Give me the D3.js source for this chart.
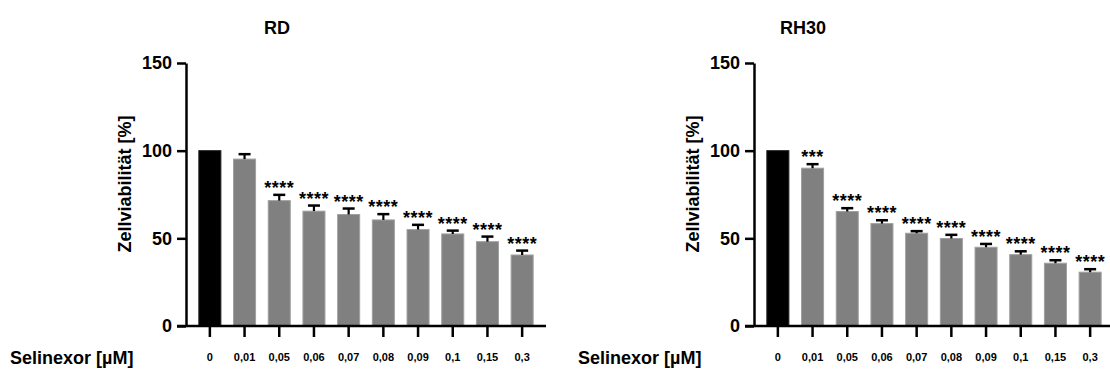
<!DOCTYPE html>
<html>
<head>
<meta charset="utf-8">
<script src="https://cdn.jsdelivr.net/npm/d3@7"></script>
<style>
  html, body { margin: 0; padding: 0; background: #fff; }
  svg { display: block; }
  text { font-family: "Liberation Sans", Arial, sans-serif; font-weight: bold; fill: #000; }
</style>
</head>
<body>
<svg id="chart" width="1110" height="370"></svg>
<script>
const categories = ["0", "0,01", "0,05", "0,06", "0,07", "0,08", "0,09", "0,1", "0,15", "0,3"];
const yTicks = [0, 50, 100, 150];

const rdValues = [100, 95.2, 71.5, 65.5, 63.6, 60.5, 55.0, 52.5, 48.1, 40.5];
const rdErrors = [0, 2.8, 3.3, 3.2, 3.4, 3.3, 2.7, 1.9, 2.9, 2.5];
const rdStars = ["", "", "****", "****", "****", "****", "****", "****", "****", "****"];

const rh30Values = [100, 90.0, 65.3, 58.4, 52.9, 49.9, 44.9, 40.7, 35.8, 30.7];
const rh30Errors = [0, 2.3, 1.9, 1.9, 1.2, 2.1, 1.9, 1.9, 1.7, 1.7];
const rh30Stars = ["", "***", "****", "****", "****", "****", "****", "****", "****", "****"];

const panels = [
  { title: "RD", values: rdValues, errors: rdErrors, stars: rdStars, offset: 0, titleX: 277 },
  { title: "RH30", values: rh30Values, errors: rh30Errors, stars: rh30Stars, offset: 568, titleX: 803 }
];

const svg = d3.select("#chart");

panels.forEach(p => {
  const x0 = 186 + p.offset;
  const x = d3.scaleBand().domain(categories).range([x0, x0 + 360]).paddingInner(0.365).paddingOuter(0.37);
  const y = d3.scaleLinear().domain([0, 150]).range([326, 63]);
  const g = svg.append("g");

  // bars
  g.selectAll("rect.bar").data(p.values).enter().append("rect")
    .attr("x", (d, i) => x(categories[i]))
    .attr("width", x.bandwidth())
    .attr("y", d => y(d))
    .attr("height", d => y(0) - y(d))
    .attr("fill", (d, i) => i === 0 ? "#000" : "#808080")
    .attr("stroke", (d, i) => i === 0 ? "#222" : "#a0a0a0")
    .attr("stroke-width", 1);

  // error bars (upper only)
  p.values.forEach((v, i) => {
    const e = p.errors[i];
    if (!e) return;
    const cx = x(categories[i]) + x.bandwidth() / 2;
    g.append("line").attr("x1", cx).attr("x2", cx).attr("y1", y(v)).attr("y2", y(v + e))
      .attr("stroke", "#000").attr("stroke-width", 2.2);
    g.append("line").attr("x1", cx - 6).attr("x2", cx + 6).attr("y1", y(v + e)).attr("y2", y(v + e))
      .attr("stroke", "#000").attr("stroke-width", 2.5);
    if (p.stars[i]) {
      g.append("text").attr("x", cx).attr("y", y(v + e) - 1)
        .attr("text-anchor", "middle").attr("font-size", 18).attr("letter-spacing", 0.5)
        .text(p.stars[i]);
    }
  });

  // axes
  const yAxis = g.append("g").attr("transform", `translate(${x0},0)`)
    .call(d3.axisLeft(y).tickValues(yTicks).tickSize(9).tickSizeOuter(0).tickPadding(5));
  yAxis.selectAll("text").attr("font-size", 18).style("font-family", '"Liberation Sans", Arial, sans-serif').style("font-weight", "bold");

  const xAxis = g.append("g").attr("transform", `translate(0,${y(0)})`)
    .call(d3.axisBottom(x).tickSize(11).tickSizeOuter(0).tickPadding(16));
  xAxis.select(".domain").attr("d", `M${x0 - 9},0H${x0 + 360}`);
  xAxis.selectAll("text").attr("font-size", 11).style("font-family", '"Liberation Sans", Arial, sans-serif').style("font-weight", "bold");

  [yAxis, xAxis].forEach(a => {
    a.selectAll("path, line").attr("stroke", "#000").attr("stroke-width", 2.5);
  });

  // y axis title
  g.append("text").attr("transform", `translate(${125 + p.offset},184) rotate(-90)`)
    .attr("text-anchor", "middle").attr("dominant-baseline", "central").attr("font-size", 18)
    .text("Zellviabilität [%]");

  // x label
  g.append("text").attr("x", 10 + p.offset).attr("y", 358).attr("dominant-baseline", "central")
    .attr("font-size", 18).text("Selinexor [µM]");

  // title
  g.append("text").attr("x", p.titleX).attr("y", 28).attr("text-anchor", "middle")
    .attr("dominant-baseline", "central").attr("font-size", 18).text(p.title);
});
</script>
</body>
</html>
